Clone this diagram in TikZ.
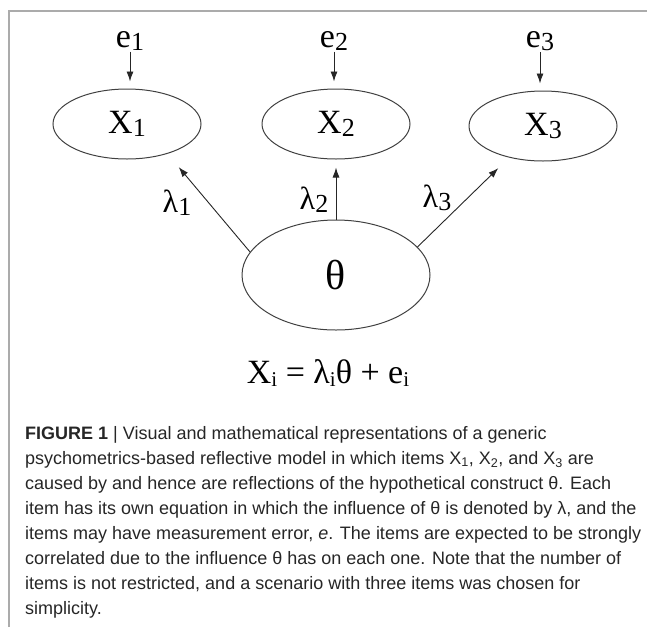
\documentclass[tikz,border=0pt]{standalone}
\usepackage{fontspec}
\setmainfont{Liberation Serif}
\newfontfamily\capfont{Liberation Sans}
\usetikzlibrary{arrows.meta,shapes.geometric}

\newcommand{\idx}[1]{\raisebox{-3pt}{\fontsize{26}{26}\selectfont #1}}
\newcommand{\fidx}[1]{\raisebox{-3pt}{\fontsize{21}{21}\selectfont #1}}

\begin{document}
\begin{tikzpicture}[
    x=1pt, y=-1pt,
    >={Latex[length=10pt, width=7pt]},
    line/.style   = {draw=black!85, line width=0.9pt},
    item/.style   = {ellipse, draw=black!75, line width=1pt, inner sep=0pt,
                     minimum width=148pt, minimum height=70pt,
                     font=\fontsize{34}{34}\selectfont},
    err/.style    = {inner sep=1pt, font=\fontsize{34}{34}\selectfont},
    load/.style   = {inner sep=0pt, font=\fontsize{32}{32}\selectfont},
    frame/.style  = {draw=black!33, line width=1.6pt}
]
\useasboundingbox (0,0) rectangle (647,627);

% frame on top and left
\draw[frame] (9,627) |- (647,11);

% items and their errors
\foreach \k/\x/\y in {1/127/124, 2/336/124, 3/543/126}
    \node[item] (X\k) at (\x,\y) {X\idx{\k}};
\foreach \k/\x in {1/130, 2/334, 3/540}
    \node[err] (e\k) at (\x,41) {e\idx{\k}};
\foreach \k in {1,2,3}
    \draw[->, line, shorten >=7pt] (e\k.south) -- (e\k.south |- X\k.north);

% latent construct
\node[ellipse, draw=black!75, line width=1pt, inner sep=0pt,
      minimum width=188pt, minimum height=110pt,
      font=\fontsize{42}{42}\selectfont] (theta) at (336,275) {θ};

% loadings
\draw[->, line] (theta.165) -- ([shift={(-1,18)}]X1.south east);
\draw[->, line, shorten >=8pt] (theta.north) -- (X2.south);
\draw[->, line] (theta.19) -- ([shift={(8,17)}]X3.south west);
\node[load] (l1) at (177,203) {λ\idx{1}};
\node[load] (l2) at (314,200) {λ\idx{2}};
\node[load] (l3) at (437,198) {λ\idx{3}};

% equation
\node[font=\fontsize{34}{34}\selectfont] (eq) at (328,373)
    {X\fidx{i} = λ\fidx{i}θ + e\fidx{i}};

% caption
\node[anchor=north west, align=left, inner sep=0pt, text=black!85,
      font=\capfont\fontsize{18}{25}\selectfont] (cap) at (25,426)
    {\textbf{FIGURE 1} | Visual and mathematical representations of a generic\\
     psychometrics-based reflective model in which items X\textsubscript{1}, X\textsubscript{2}, and X\textsubscript{3} are\\
     caused by and hence are reflections of the hypothetical construct θ. Each\\
     item has its own equation in which the influence of θ is denoted by λ, and the\\
     items may have measurement error, \textit{e}. The items are expected to be strongly\\
     correlated due to the influence θ has on each one. Note that the number of\\
     items is not restricted, and a scenario with three items was chosen for\\
     simplicity.};

\end{tikzpicture}
\end{document}
